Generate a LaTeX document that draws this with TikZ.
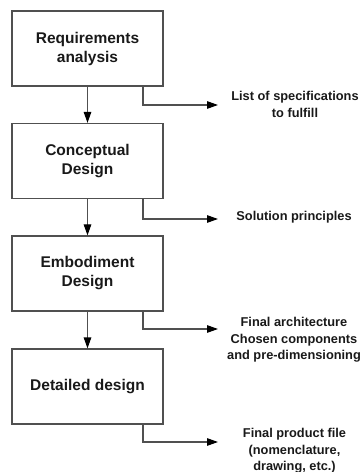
\documentclass[tikz,border=0pt]{standalone}
\usepackage{fontspec}
\setmainfont{Liberation Sans}
\usetikzlibrary{arrows.meta}
\definecolor{linec}{RGB}{80,80,80}
\definecolor{txt}{RGB}{25,25,25}
\begin{document}
\begin{tikzpicture}[x=1bp,y=-1bp,
  box/.style={draw=linec, line width=1.2bp, minimum width=151bp, minimum height=75bp,
    inner sep=0pt, align=center, text=txt,
    font=\bfseries\fontsize{15.5bp}{19bp}\selectfont},
  lab/.style={align=center, inner sep=0pt, text=txt,
    font=\bfseries\fontsize{12.8bp}{16.3bp}\selectfont},
  conn/.style={draw=linec, line width=1.2bp, -{Triangle[length=11bp,width=7.5bp,color=black]}}]
\useasboundingbox (0,0) rectangle (361,472);
\node[box] (b1) at (87.5,48.5) {Requirements\\analysis};
\node[box] (b2) at (87.5,161) {Conceptual\\Design};
\node[box] (b3) at (87.5,273.5) {Embodiment\\Design};
\node[box] (b4) at (87.5,386.5) {Detailed design};
\draw[conn] (b1) -- (b2);
\draw[conn] (b2) -- (b3);
\draw[conn] (b3) -- (b4);
\coordinate (e1) at (218,105);
\coordinate (e2) at (218,219);
\coordinate (e3) at (218,329);
\coordinate (e4) at (218,442);
\draw[conn] ([xshift=55.5bp]b1.south) |- (e1);
\draw[conn] ([xshift=55.5bp]b2.south) |- (e2);
\draw[conn] ([xshift=55.5bp]b3.south) |- (e3);
\draw[conn] ([xshift=55.5bp]b4.south) |- (e4);
\node[lab] (l1) at (295,104.5) {List of specifications\\to fulfill};
\node[lab] (l2) at (294,217) {Solution principles};
\node[lab] (l3) at (294,340) {Final architecture\\Chosen components\\and pre-dimensioning};
\node[lab] (l4) at (294.5,451) {Final product file\\(nomenclature,\\drawing, etc.)};
\end{tikzpicture}
\end{document}
